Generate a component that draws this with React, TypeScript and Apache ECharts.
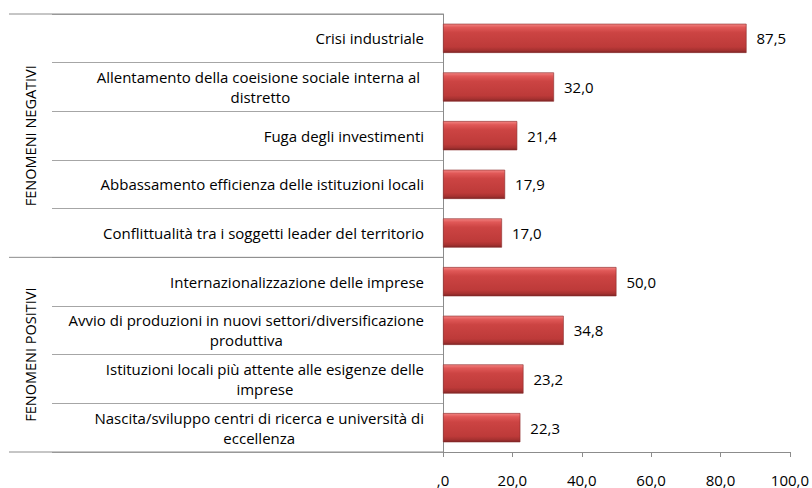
import React, { useEffect, useRef } from "react";
import * as echarts from "echarts";

const categories: string[] = [
  "Crisi industriale",
  "Allentamento della coeisione sociale interna al \ndistretto",
  "Fuga degli investimenti",
  "Abbassamento efficienza delle istituzioni locali",
  "Conflittualità tra i soggetti leader del territorio",
  "Internazionalizzazione delle imprese",
  "Avvio di produzioni in nuovi settori/diversificazione\nproduttiva",
  "Istituzioni locali più attente alle esigenze delle\nimprese",
  "Nascita/sviluppo centri di ricerca e università di\neccellenza",
];
const values: number[] = [87.5, 32.0, 21.4, 17.9, 17.0, 50.0, 34.8, 23.2, 22.3];
const groupNames: string[] = ["FENOMENI NEGATIVI", "FENOMENI POSITIVI"];
const groupSizes: number[] = [5, 4];
const xTicks = { min: 0, max: 100, interval: 20 };

const FONT = "Open Sans";
const LINE = "#8c8c8c";
const fmt = (v: number) => (v === 0 ? ",0" : v.toFixed(1).replace(".", ","));

export default function App() {
  const ref = useRef<HTMLDivElement>(null);
  useEffect(() => {
    document.body.style.margin = "0";
    if (!ref.current) return;
    const chart = echarts.init(ref.current, undefined, { renderer: "svg" });
    const option: any = {
      animation: false,
      backgroundColor: "#ffffff",
      grid: { left: 443, right: 22, top: 14, bottom: 36, containLabel: false },
      xAxis: {
        type: "value",
        min: xTicks.min,
        max: xTicks.max,
        interval: xTicks.interval,
        axisLine: { show: true, lineStyle: { color: LINE, width: 1 } },
        axisTick: { show: true, length: 5, lineStyle: { color: LINE } },
        splitLine: { show: false },
        axisLabel: {
          formatter: (v: number) => fmt(v),
          fontFamily: FONT,
          fontSize: 15,
          color: "#000",
          margin: 20,
        },
      },
      yAxis: {
        type: "category",
        inverse: true,
        data: categories,
        axisLine: { show: true, lineStyle: { color: LINE, width: 1 } },
        axisTick: { show: true, length: 391, lineStyle: { color: "#a6a6a6" } },
        axisLabel: {
          margin: 19,
          fontFamily: FONT,
          fontSize: 15,
          color: "#000",
          formatter: (v: string) =>
            v
              .split("\n")
              .map((s) => `{c|${s}}`)
              .join("\n"),
          rich: {
            c: { align: "center", fontFamily: FONT, fontSize: 15, color: "#000", lineHeight: 20 },
          },
        },
      },
      series: [
        {
          type: "bar",
          data: values,
          barCategoryGap: "40%",
          itemStyle: {
            color: new echarts.graphic.LinearGradient(0, 0, 0, 1, [
              { offset: 0, color: "#f28482" },
              { offset: 0.12, color: "#e05857" },
              { offset: 0.3, color: "#cc4443" },
              { offset: 0.8, color: "#bd3a39" },
              { offset: 0.92, color: "#a53130" },
              { offset: 1, color: "#7e2525" },
            ]),
            borderColor: "#8a2a2a",
            borderWidth: 0.6,
          },
          label: {
            show: true,
            position: "right",
            distance: 10,
            formatter: (p: any) => fmt(p.value),
            fontFamily: FONT,
            fontSize: 15,
            color: "#000",
          },
        },
      ],
    };
    chart.setOption(option);

    const x0 = chart.convertToPixel({ xAxisIndex: 0 }, 0) as number;
    const c0 = chart.convertToPixel({ yAxisIndex: 0 }, categories[0]) as number;
    const c1 = chart.convertToPixel({ yAxisIndex: 0 }, categories[1]) as number;
    const band = c1 - c0;
    const graphics: any[] = [];
    let start = 0;
    groupNames.forEach((name, gi) => {
      const top = c0 - band / 2 + start * band;
      const bottom = top + groupSizes[gi] * band;
      graphics.push({
        type: "line",
        shape: { x1: 9, y1: top, x2: x0, y2: top },
        style: { stroke: LINE, lineWidth: 1 },
        z: 10,
      });
      if (gi === groupNames.length - 1) {
        graphics.push({
          type: "line",
          shape: { x1: 9, y1: bottom, x2: x0, y2: bottom },
          style: { stroke: LINE, lineWidth: 1 },
          z: 10,
        });
      }
      graphics.push({
        type: "text",
        x: 30,
        y: (top + bottom) / 2,
        rotation: Math.PI / 2,
        style: {
          text: name,
          fontFamily: FONT,
          fontSize: 14.5,
          fill: "#000",
          align: "center",
          verticalAlign: "middle",
        },
      });
      start += groupSizes[gi];
    });
    chart.setOption({ graphic: graphics });

    return () => chart.dispose();
  }, []);
  return <div ref={ref} style={{ width: 812, height: 488 }} />;
}
